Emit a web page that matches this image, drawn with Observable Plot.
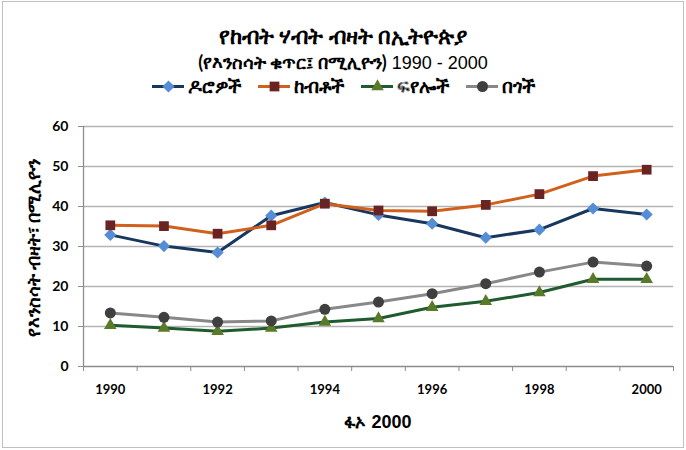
<!DOCTYPE html>
<html>
<head>
<meta charset="utf-8">
<script src="https://cdn.jsdelivr.net/npm/d3@7"></script>
<script src="https://cdn.jsdelivr.net/npm/@observablehq/plot@0.6"></script>
<style>
  body { margin: 0; background: #fff; }
  #wrap { position: relative; width: 686px; height: 450px; overflow: hidden; font-family: Lato, "Noto Sans", "DejaVu Sans", sans-serif; }
  #frame { position: absolute; left: 2px; top: 1px; width: 680px; height: 445px; border: 1.5px solid #c0c0c0; }
  .c { position: absolute; left: 0; width: 686px; text-align: center; color: #000; white-space: nowrap; line-height: 1; }
  #title { top: 25px; font-size: 22px; font-weight: bold; }
  #subtitle { top: 53px; font-size: 18px; font-weight: bold; }
  #subtitle .num, #xlabel .num { font-family: "Liberation Sans", Arial, sans-serif; font-weight: normal; }
  #legend { position: absolute; top: 76px; left: 0; width: 686px; display: flex; justify-content: center; gap: 17px; font-size: 19px; font-weight: bold; line-height: 1; }
  .item { display: flex; align-items: center; gap: 4px; }
  #ylabel { position: absolute; left: 33px; top: 248px; transform: translate(-50%, -50%) rotate(-90deg); white-space: nowrap; font-size: 18px; font-weight: bold; line-height: 1; }
  #xlabel { position: absolute; top: 412px; left: 83px; width: 590px; text-align: center; font-size: 18px; font-weight: bold; line-height: 1; }
  #xlabel .num { font-weight: bold; }
  #chart { position: absolute; top: 110px; left: 0; }
</style>
</head>
<body>
<div id="wrap">
  <div id="frame"></div>
  <div id="title" class="c"></div>
  <div id="subtitle" class="c"></div>
  <div id="legend"></div>
  <div id="ylabel"></div>
  <div id="xlabel"></div>
  <div id="chart"></div>
</div>
<script>
const titleText = "የከብት ሃብት ብዛት በኢትዮጵያ";
const subtitleText = "(የእንስሳት ቁጥር፤ በሚሊዮን)";
const subtitleRange = " 1990 - 2000";
const yLabelText = "የእንስሳት ብዛት፣ በሚሊዮን";
const xLabelText = "ፋኦ";
const xLabelYear = " 2000";

const years = [1990, 1991, 1992, 1993, 1994, 1995, 1996, 1997, 1998, 1999, 2000];
const yearLabels = [1990, 1992, 1994, 1996, 1998, 2000];
const yTicks = [0, 10, 20, 30, 40, 50, 60];

const seriesNames = ["ዶሮዎች", "ከብቶች", "ፍየሎች", "በጎች"];
const chickens = [32.9, 30.1, 28.5, 37.7, 41.0, 37.9, 35.7, 32.2, 34.2, 39.5, 38.0];
const cattle   = [35.3, 35.1, 33.2, 35.3, 40.7, 39.0, 38.8, 40.4, 43.1, 47.6, 49.2];
const goats    = [10.3, 9.6, 8.8, 9.6, 11.1, 12.0, 14.8, 16.3, 18.5, 21.8, 21.8];
const sheep    = [13.4, 12.3, 11.1, 11.4, 14.3, 16.1, 18.2, 20.7, 23.6, 26.1, 25.1];

const styles = [
  {line: "#17375E", fill: "#558ED5", symbol: "diamond2", r: 5.5},
  {line: "#D0601C", fill: "#6A2323", symbol: "square", r: 5.5},
  {line: "#1E5B2E", fill: "#5A7A2A", symbol: "triangle2", r: 6},
  {line: "#888888", fill: "#3F3F3F", symbol: "circle", r: 5.5}
];
const seriesValues = [chickens, cattle, goats, sheep];

const data = [];
seriesNames.forEach((name, si) => {
  years.forEach((yr, i) => data.push({series: name, si, year: yr, value: seriesValues[si][i]}));
});

document.getElementById("title").textContent = titleText;
const sub = document.getElementById("subtitle");
sub.append(subtitleText);
const subNum = document.createElement("span"); subNum.className = "num"; subNum.textContent = subtitleRange; sub.append(subNum);
document.getElementById("ylabel").textContent = yLabelText;
const xl = document.getElementById("xlabel");
xl.append(xLabelText);
const xlNum = document.createElement("span"); xlNum.className = "num"; xlNum.textContent = xLabelYear; xl.append(xlNum);

// legend
const legend = document.getElementById("legend");
seriesNames.forEach((name, si) => {
  const s = styles[si];
  const item = document.createElement("div");
  item.className = "item";
  const sw = Plot.plot({
    width: 32, height: 16, margin: 0,
    x: {domain: [0, 2], axis: null}, y: {domain: [0, 1], axis: null},
    marks: [
      Plot.ruleY([0.5], {x1: 0, x2: 2, stroke: s.line, strokeWidth: 3}),
      Plot.dot([{x: 1, y: 0.5}], {x: "x", y: "y", symbol: () => s.symbol, r: s.r, fill: s.fill, stroke: "none"})
    ]
  });
  item.appendChild(sw);
  const t = document.createElement("span");
  t.textContent = name;
  item.appendChild(t);
  legend.appendChild(item);
});

const boundaries = d3.range(1989.5, 2001, 1);

const chart = Plot.plot({
  width: 686,
  height: 340,
  marginTop: 16,
  marginBottom: 84,
  marginLeft: 83,
  marginRight: 13,
  style: {fontFamily: "Lato, 'Noto Sans', sans-serif", background: "transparent", overflow: "visible"},
  x: {domain: [1989.5, 2000.5]},
  y: {domain: [0, 60]},
  marks: [
    Plot.gridY(yTicks.filter(d => d > 0), {stroke: "#b3b3b3", strokeOpacity: 1, strokeWidth: 1.6}),
    Plot.ruleX([1989.5], {stroke: "#8c8c8c", strokeWidth: 1.3}),
    Plot.ruleY([0], {stroke: "#8c8c8c", strokeWidth: 1.3}),
    Plot.axisY({ticks: yTicks, tickSize: 5, tickPadding: 10, stroke: "#8c8c8c", fontSize: 14, fontWeight: "bold", fill: "#000", label: null}),
    Plot.axisX({ticks: boundaries, tickSize: 5, tickFormat: () => "", stroke: "#8c8c8c", label: null}),
    Plot.axisX({ticks: yearLabels, tickSize: 0, tickPadding: 18, tickFormat: d => String(d), fontSize: 13, fontWeight: "bold", fill: "#000", label: null}),
    ...seriesNames.map((name, si) => Plot.line(data.filter(d => d.si === si), {x: "year", y: "value", stroke: styles[si].line, strokeWidth: 3})),
    ...seriesNames.map((name, si) => Plot.dot(data.filter(d => d.si === si), {x: "year", y: "value", symbol: () => styles[si].symbol, r: styles[si].r, fill: styles[si].fill, stroke: "none"}))
  ]
});
document.getElementById("chart").appendChild(chart);
</script>
</body>
</html>
